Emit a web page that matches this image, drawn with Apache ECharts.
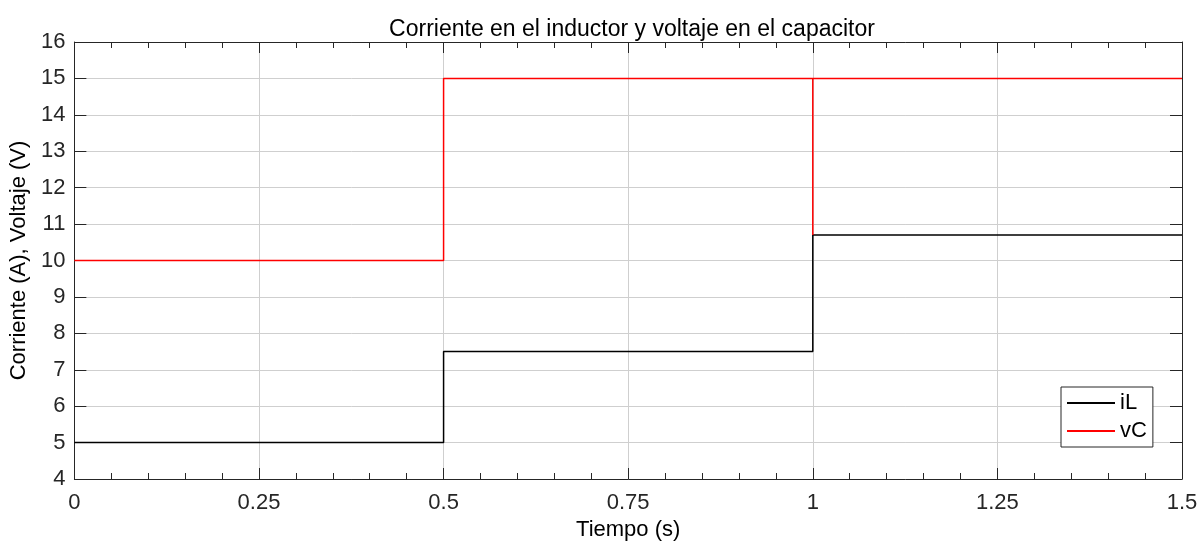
<!DOCTYPE html>
<html>
<head>
<meta charset="utf-8">
<script src="https://cdn.jsdelivr.net/npm/echarts@6/dist/echarts.min.js"></script>
<style>html,body{margin:0;padding:0;background:#fff}#c{width:1201px;height:546px}</style>
</head>
<body>
<div id="c"></div>
<script>
// Data (step breakpoints: value holds from this time until the next time)
const iL_t = [0, 0.5, 1, 1.5];
const iL_v = [5, 7.5, 10.7, 10.7];
const vC_t = [0, 0.5, 1, 1, 1.5];
const vC_v = [10, 15, 10.7, 15, 15];
const xTicks = [0, 0.25, 0.5, 0.75, 1, 1.25, 1.5];
const yTicks = [4, 5, 6, 7, 8, 9, 10, 11, 12, 13, 14, 15, 16];
const seriesNames = ['iL', 'vC'];

const FONT = 'Liberation Sans, Arial, sans-serif';
const FS = 22;
const AX = '#262626';
const GRID = '#cfcfcf';

const pair = (t, v) => t.map((x, i) => [x, v[i]]);

const xBase = {
  type: 'value', min: xTicks[0], max: xTicks[xTicks.length - 1], interval: 0.25,
  axisLine: { show: true, onZero: false, lineStyle: { color: AX, width: 1 } },
  axisTick: { show: true, inside: true, length: 11, lineStyle: { color: AX } },
  minorTick: { show: true, splitNumber: 5, length: 6, lineStyle: { color: AX } },
  minorSplitLine: { show: false }
};
const yBase = {
  type: 'value', min: yTicks[0], max: yTicks[yTicks.length - 1], interval: 1,
  axisLine: { show: true, onZero: false, lineStyle: { color: AX, width: 1 } },
  axisTick: { show: true, inside: true, length: 12, lineStyle: { color: AX } }
};

const chart = echarts.init(document.getElementById('c'), null, { renderer: 'canvas' });
chart.setOption({
  animation: false,
  backgroundColor: '#ffffff',
  textStyle: { fontFamily: FONT },
  title: {
    text: 'Corriente en el inductor y voltaje en el capacitor',
    left: 627, top: 13, textAlign: 'center',
    textStyle: { fontFamily: FONT, fontSize: 23, fontWeight: 'normal', color: '#000' }
  },
  grid: { left: 73, right: 19, top: 42, bottom: 64, containLabel: false },
  legend: {
    data: seriesNames,
    orient: 'vertical', left: 1061, top: 387,
    padding: [5, 6, 5, 6], itemGap: 6, itemWidth: 48, itemHeight: 2,
    icon: 'rect',
    borderColor: AX, borderWidth: 1, backgroundColor: '#fff',
    textStyle: { fontFamily: FONT, fontSize: FS, lineHeight: 22, color: '#000', padding: [0, 0, 0, 0] }
  },
  xAxis: [
    Object.assign({}, xBase, {
      position: 'bottom',
      name: 'Tiempo (s)', nameLocation: 'middle', nameGap: 40,
      nameTextStyle: { fontFamily: FONT, fontSize: FS, color: '#000' },
      axisLabel: { show: true, margin: 13, fontSize: FS, fontFamily: FONT, color: '#262626',
        formatter: v => String(v) },
      splitLine: { show: true, lineStyle: { color: GRID, width: 1 } }
    }),
    Object.assign({}, xBase, {
      position: 'top', axisLabel: { show: false }, splitLine: { show: false }
    })
  ],
  yAxis: [
    Object.assign({}, yBase, {
      position: 'left',
      name: 'Corriente (A), Voltaje (V)', nameLocation: 'middle', nameGap: 42,
      nameTextStyle: { fontFamily: FONT, fontSize: FS, color: '#000' },
      axisLabel: { show: true, margin: 9, fontSize: FS, fontFamily: FONT, color: '#262626' },
      splitLine: { show: true, lineStyle: { color: GRID, width: 1 } }
    }),
    Object.assign({}, yBase, {
      position: 'right', axisLabel: { show: false }, splitLine: { show: false }
    })
  ],
  series: [
    { name: seriesNames[0], type: 'line', step: 'end', symbol: 'none', xAxisIndex: 0, yAxisIndex: 0,
      data: pair(iL_t, iL_v), lineStyle: { color: '#000', width: 1.5 }, itemStyle: { color: '#000' } },
    { name: seriesNames[1], type: 'line', step: 'end', symbol: 'none', xAxisIndex: 0, yAxisIndex: 0,
      data: pair(vC_t, vC_v), lineStyle: { color: '#ff0000', width: 1.5 }, itemStyle: { color: '#ff0000' } }
  ]
});
</script>
</body>
</html>
